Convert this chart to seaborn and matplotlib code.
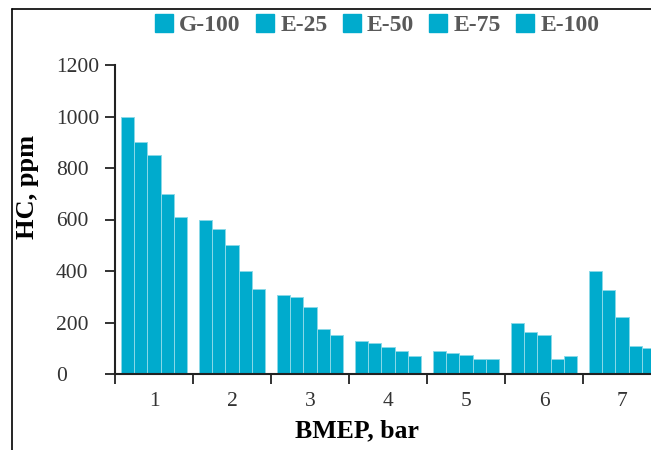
import matplotlib
matplotlib.use("Agg")
import matplotlib.pyplot as plt
from matplotlib.lines import Line2D
import numpy as np
import pandas as pd
import seaborn as sns

# values
bmep = ["1", "2", "3", "4", "5", "6", "7"]
fuels = ["G-100", "E-25", "E-50", "E-75", "E-100"]
g100 = [1000, 600, 305, 130, 90, 200, 400]
e25 = [900, 565, 300, 120, 80, 165, 325]
e50 = [850, 500, 260, 105, 72, 150, 220]
e75 = [700, 400, 173, 90, 60, 60, 110]
e100 = [610, 330, 150, 70, 60, 70, 100]

rows = []
for fuel, vals in zip(fuels, [g100, e25, e50, e75, e100]):
    for b, v in zip(bmep, vals):
        rows.append({"bmep": b, "hc": v, "fuel": fuel})
df = pd.DataFrame(rows)

sns.set_theme(style="ticks")
plt.rcParams["font.family"] = ["Liberation Serif", "DejaVu Serif"]

bar_color = "#00ABCD"
W, H = 651, 450
fig = plt.figure(figsize=(W / 100, H / 100), dpi=100)
ax = fig.add_axes([115 / W, 76 / H, 546 / W, 309 / H])

sns.barplot(data=df, x="bmep", y="hc", hue="fuel", palette=[bar_color] * 5,
            width=0.835, edgecolor="#8ad9e8", linewidth=0.7, legend=False,
            saturation=1, ax=ax)

ax.set_xlim(-0.5, 6.5)
ax.set_ylim(0, 1200)
ax.set_yticks(np.arange(0, 1201, 200))
ax.set_yticklabels([str(v) for v in range(0, 1201, 200)], color="#333333", fontsize=15.5)
for lab in ax.get_yticklabels():
    lab.set_horizontalalignment("left")
ax.tick_params(axis="y", length=7.5, width=1.3, pad=35, colors="#222222", labelcolor="#333333")

ax.set_xticks(np.arange(-0.5, 7, 1))
ax.set_xticklabels([])
ax.set_xticks(range(len(bmep)), minor=True)
ax.set_xticklabels(bmep, minor=True, fontsize=15.5, color="#333333")
ax.tick_params(axis="x", which="major", length=7.5, width=1.3, colors="#222222")
ax.tick_params(axis="x", which="minor", length=0, pad=13)

sns.despine(ax=ax)
for s in ["left", "bottom"]:
    ax.spines[s].set_linewidth(1.5)
    ax.spines[s].set_color("#222222")

ax.set_xlabel("BMEP, bar", fontsize=18.5, fontweight="bold", color="black")
ax.set_ylabel("HC, ppm", fontsize=19, fontweight="bold", color="black")
ax.xaxis.set_label_coords((356.5 - 115) / 546, (374 - 419) / 309)
ax.yaxis.set_label_coords((39 - 115) / 546, (374 - 187) / 309)

handles = [Line2D([], [], marker="s", ms=13, ls="", color=bar_color) for _ in fuels]
fig.legend(handles, fuels, loc="center", bbox_to_anchor=(377 / W, 1 - 25.5 / H),
           ncol=5, frameon=False, handlelength=0.8, handletextpad=0.25,
           columnspacing=0.62, labelcolor="#595959",
           prop={"family": "Liberation Serif", "weight": "bold", "size": 17})

# outer frame lines (top and left)
fig.add_artist(Line2D([12 / W, 12 / W], [0, 1 - 9 / H], color="black", lw=1.2))
fig.add_artist(Line2D([12 / W, 1], [1 - 9 / H, 1 - 9 / H], color="black", lw=1.2))

fig.savefig("out.png", dpi=100)
